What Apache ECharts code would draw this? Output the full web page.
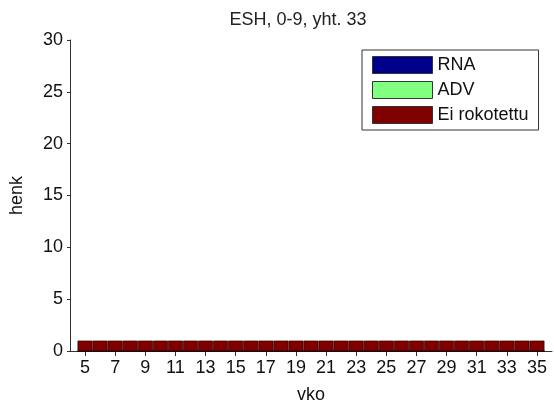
<!DOCTYPE html>
<html><head><meta charset="utf-8">
<script src="https://cdn.jsdelivr.net/npm/echarts@6/dist/echarts.min.js"></script>
<style>html,body{margin:0;padding:0;background:#fff}#c{width:554px;height:405px}</style>
</head><body><div id="c"></div>
<script>
const weeks = [5,6,7,8,9,10,11,12,13,14,15,16,17,18,19,20,21,22,23,24,25,26,27,28,29,30,31,32,33,34,35];
const rna   = [0,0,0,0,0,0,0,0,0,0,0,0,0,0,0,0,0,0,0,0,0,0,0,0,0,0,0,0,0,0,0];
const adv   = [0,0,0,0,0,0,0,0,0,0,0,0,0,0,0,0,0,0,0,0,0,0,0,0,0,0,0,0,0,0,0];
const eiRok = [1,1,1,1,1,1,1,1,1,1,1,1,1,1,1,1,1,1,1,1,1,1,1,1,1,1,1,1,1,1,1];
const xTickLabels = [5,7,9,11,13,15,17,19,21,23,25,27,29,31,33,35];
const seriesNames = ['RNA','ADV','Ei rokotettu'];
const colors = ['#00008B','#80FF80','#800000'];

const font = 'Liberation Sans, Arial, sans-serif';
const chart = echarts.init(document.getElementById('c'), null, {renderer:'canvas'});
const mk = (name, vals, color) => ({
  name, type:'bar', stack:'s',
  data: weeks.map((w,i)=>[w, vals[i]]),
  barWidth: 15,
  itemStyle:{color, borderColor:'#2a0000', borderWidth:0.7},
  emphasis:{disabled:true}
});
chart.setOption({
  animation:false,
  textStyle:{fontFamily:font},
  title:{text:'ESH, 0-9, yht. 33', left:293, top:6, textAlign:'center',
    textStyle:{fontFamily:font, fontSize:18, fontWeight:'normal', color:'#222'}},
  grid:{left:70, right:2, top:40, bottom:54, containLabel:false, outerBoundsMode:'none'},
  legend:{
    orient:'vertical', left:362, top:50, width:181, height:77,
    padding:[6,10,6,10], itemGap:7, itemWidth:60, itemHeight:17,
    borderColor:'#333', borderWidth:1, backgroundColor:'#fff',
    textStyle:{fontFamily:font, fontSize:18, color:'#111'},
    icon:'rect',
    data: seriesNames.map((n,i)=>({name:n, itemStyle:{color:colors[i], borderColor:'#333', borderWidth:1}}))
  },
  xAxis:{type:'value', min:4, max:36, name:'vko', nameLocation:'middle', nameGap:35,
    nameTextStyle:{fontFamily:font, fontSize:18, color:'#111'},
    axisLine:{show:true, onZero:false, lineStyle:{color:'#333'}},
    axisTick:{show:true, length:5, inside:false, customValues:xTickLabels, lineStyle:{color:'#333'}},
    axisLabel:{customValues:xTickLabels, fontFamily:font, fontSize:18, color:'#111', margin:8},
    splitLine:{show:false}},
  yAxis:{type:'value', min:0, max:30, interval:5, name:'henk', nameLocation:'middle', nameGap:44,
    nameTextStyle:{fontFamily:font, fontSize:18, color:'#111'},
    axisLine:{show:true, lineStyle:{color:'#333'}},
    axisTick:{show:true, length:3, lineStyle:{color:'#333'}},
    axisLabel:{fontFamily:font, fontSize:18, color:'#111', margin:7},
    splitLine:{show:false}},
  series:[mk(seriesNames[0], rna, colors[0]), mk(seriesNames[1], adv, colors[1]), mk(seriesNames[2], eiRok, colors[2])]
});
</script></body></html>
